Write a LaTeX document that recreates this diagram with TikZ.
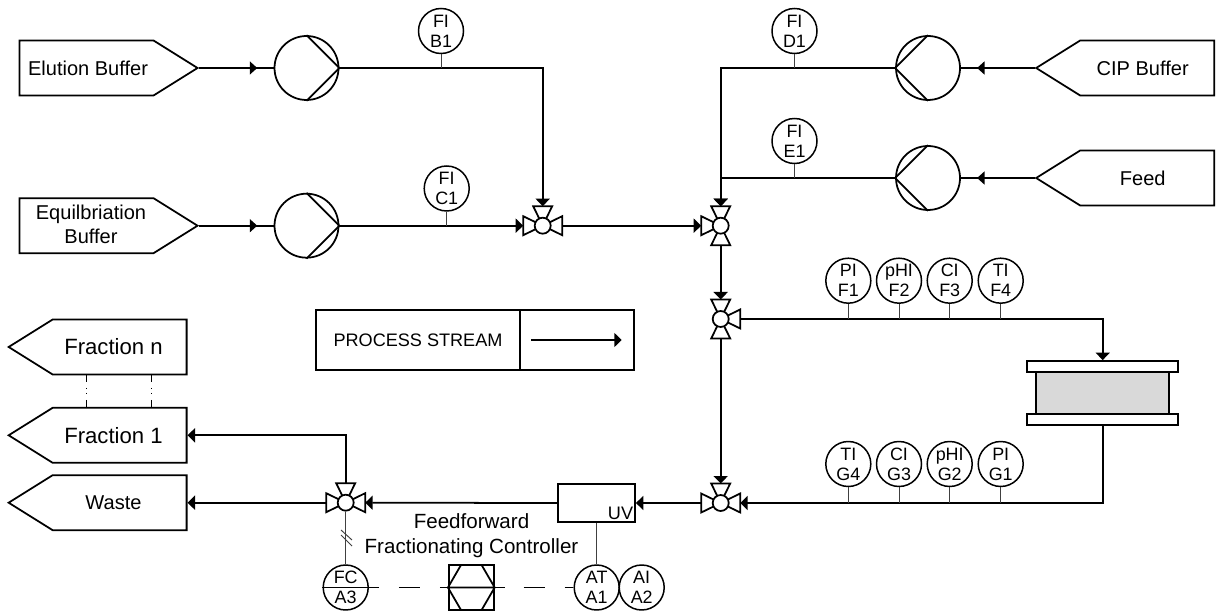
\documentclass[tikz,border=0pt]{standalone}
\usepackage{fontspec}
\setmainfont{Liberation Sans}
\usepackage{xcolor}
\usepackage{tikz}
\usetikzlibrary{arrows.meta,shapes.symbols,decorations.markings}
\tikzset{
stream/.style={line width=1pt},
flow/.style={line width=1pt,-{Triangle[length=1.5mm,width=2.8mm]}},
midtip/.style={postaction={decorate},decoration={markings,mark=at position #1 with {\arrow{Triangle[length=1.5mm,width=2.6mm]}}}},
signalline/.style={line width=0.55pt,black!75},
source/.style={signal,signal to=east,signal pointer angle=64,draw,line width=1pt,inner sep=0pt,minimum width=3.56cm,minimum height=1.1cm,anchor=west},
sink/.style={signal,signal to=west,signal pointer angle=64,draw,line width=1pt,inner sep=0pt,minimum width=3.56cm,minimum height=1.1cm,anchor=east},
pump/.style={circle,draw,line width=1pt,minimum size=1.28cm,inner sep=0pt},
instr/.style={circle,draw,line width=0.85pt,fill=white,minimum size=0.9cm,inner sep=0pt,align=center,font=\fontsize{10.2}{11.4}\selectfont},
boxtext/.style={align=center,inner sep=0pt,font=\fontsize{11.4}{13.6}\selectfont}
}
\newcommand{\valve}[3]{
\foreach \a in {#3}{
\draw[stream,fill=white](#2)--++(\a-26:21.7)--++(\a+90:19)--cycle;
}
\node[circle,draw,line width=1pt,fill=white,minimum size=0.32cm,inner sep=0pt](#1)at(#2){};
\path(#2)++(0,-19.5)coordinate(#1n)(#2)++(0,19.5)coordinate(#1s)
(#2)++(19.5,0)coordinate(#1e)(#2)++(-19.5,0)coordinate(#1w);
}
\begin{document}
\begin{tikzpicture}[x=0.02cm,y=-0.02cm]
\useasboundingbox(0,0)rectangle(1216,614);
% feeds
\node[source](elution)at(18.7,68){};
\node[boxtext](elutionText)at(88,68){Elution Buffer};
\node[source](equil)at(18.7,225.7){};
\node[boxtext](equilText)at(91,224){Equilbriation\\Buffer};
\node[sink](cip)at(1215,68){};
\node[boxtext](cipText)at(1142.7,68){CIP Buffer};
\node[sink](feed)at(1215,178){};
\node[boxtext](feedText)at(1142.7,178){Feed};
% outlets
\node[sink](fracn)at(187.5,347){};
\node[boxtext,font=\fontsize{12.6}{15}\selectfont](fracnText)at(113.5,347){Fraction n};
\node[sink](frac1)at(187.5,435.3){};
\node[boxtext,font=\fontsize{12.6}{15}\selectfont](frac1Text)at(113.5,435.3){Fraction 1};
\node[sink](waste)at(187.5,502.7){};
\node[boxtext](wasteText)at(113.5,502.7){Waste};
\coordinate(fracnL)at(86.7,374);
\coordinate(fracnR)at(151,374);
\coordinate(frac1L)at(86.7,408);
\coordinate(frac1R)at(151,408);
\draw[line width=0.55pt,dash pattern=on 0.16cm off 0.12cm on 0.02cm off 0.08cm on 0.02cm off 0.12cm on 0.16cm](fracnL)--(frac1L);
\draw[line width=0.55pt,dash pattern=on 0.16cm off 0.12cm on 0.02cm off 0.08cm on 0.02cm off 0.12cm on 0.16cm](fracnR)--(frac1R);
% pumps
\node[pump](pumpB)at(306.5,68){};
\node[pump](pumpC)at(306.5,225.7){};
\node[pump](pumpD)at(928,68){};
\node[pump](pumpE)at(928,178){};
\draw[stream](pumpB.north)--(pumpB.east)--(pumpB.south);
\draw[stream](pumpC.north)--(pumpC.east)--(pumpC.south);
\draw[stream](pumpD.north)--(pumpD.west)--(pumpD.south);
\draw[stream](pumpE.north)--(pumpE.west)--(pumpE.south);
% valves
\valve{vA}{542.7,225.7}{0,180,270}
\valve{vB}{720.7,225.7}{90,180,270}
\valve{vC}{720.7,319}{0,90,270}
\valve{vD}{720.7,503}{0,180,270}
\valve{vE}{345.7,502.7}{0,180,270}
% column
\node[draw,line width=1pt,fill=black!15,minimum width=2.66cm,minimum height=0.84cm,inner sep=0pt](column)at(1102.7,393){};
\node[draw,line width=1pt,minimum width=3.02cm,minimum height=0.22cm,inner sep=0pt](colTop)at(1102.7,366.5){};
\node[draw,line width=1pt,minimum width=3.02cm,minimum height=0.22cm,inner sep=0pt](colBot)at(1102.7,419.3){};
% detector and controller
\node[draw,line width=1pt,minimum width=1.54cm,minimum height=0.76cm,inner sep=0pt](uv)at(596.5,503){};
\node[boxtext,font=\fontsize{10.3}{12}\selectfont](uvText)at(620.5,513){UV};
\node[draw,line width=1pt,minimum size=0.9cm,inner sep=0pt](ctrl)at(471.3,587.5){};
\draw[stream](ctrl.west)--(461,565)--(481.6,565)--(ctrl.east)--(481.6,610)--(461,610)--cycle
(ctrl.west)--(ctrl.east);
\node[boxtext,font=\fontsize{11.7}{14.2}\selectfont](ctrlLabel)at(471.5,535.5){Feedforward\\Fractionating Controller};
% legend
\node[draw,line width=0.85pt,minimum width=4.08cm,minimum height=1.2cm,inner sep=0pt,font=\fontsize{10.3}{12}\selectfont](legendText)at(418,340){PROCESS STREAM};
\node[draw,line width=0.85pt,minimum width=2.28cm,minimum height=1.2cm,inner sep=0pt](legendFlow)at(577,340){};
\draw[flow,shorten <=0.24cm,shorten >=0.26cm](legendFlow.west)--(legendFlow.east);
% instruments
\node[instr](fiB)at(441,31){FI\\B1};
\node[instr](fiC)at(446.7,188.5){FI\\C1};
\node[instr](fiD)at(794.5,31){FI\\D1};
\node[instr](fiE)at(794.5,141){FI\\E1};
\node[instr](piF)at(848.3,280.7){PI\\F1};
\node[instr](phF)at(899,280.7){pHI\\F2};
\node[instr](ciF)at(949.7,280.7){CI\\F3};
\node[instr](tiF)at(1000.7,280.7){TI\\F4};
\node[instr](tiG)at(848.3,464){TI\\G4};
\node[instr](ciG)at(899,464){CI\\G3};
\node[instr](phG)at(949.7,464){pHI\\G2};
\node[instr](piG)at(1000.7,464){PI\\G1};
\node[instr](fc)at(345.7,587.5){FC\\A3};
\node[instr](at)at(596.7,587.5){AT\\A1};
\node[instr](ai)at(641.7,587.5){AI\\A2};
% process lines
\draw[stream,midtip=0.78](elution.east)--(pumpB.west);
\draw[stream,midtip=0.78](equil.east)--(pumpC.west);
\draw[stream,midtip=0.78](cip.west)--(pumpD.east);
\draw[stream,midtip=0.78](feed.west)--(pumpE.east);
\draw[flow](pumpB.east)-|(vAn);
\draw[flow](pumpC.east)--(vAw);
\draw[flow](pumpD.west)-|(vBn);
\draw[flow](pumpE.west)-|(vBn);
\draw[flow](vAe)--(vBw);
\draw[flow](vBs)--(vCn);
\draw[flow](vCs)--(vDn);
\draw[flow](vCe)-|(colTop.north);
\draw[flow](colBot.south)|-(vDe);
\draw[flow](vDw)--(uv.east);
\draw[flow](uv.west)--(vEe);
\draw[flow](vEw)--(waste.east);
\draw[flow](vEn)|-(frac1.east);
% instrument lines
\draw[signalline](fiB.south)--(fiB|-pumpB);
\draw[signalline](fiC.south)--(fiC|-pumpC);
\draw[signalline](fiD.south)--(fiD|-pumpD);
\draw[signalline](fiE.south)--(fiE|-pumpE);
\foreach \n in {piF,phF,ciF,tiF}{
\draw[signalline](\n.south)--(\n|-vC);
}
\foreach \n in {tiG,ciG,phG,piG}{
\draw[signalline](\n.south)--(\n|-vD);
}
\draw[signalline](uv.south-|at)--(at.north);
\draw[signalline](vE.south)--(fc.north);
\draw[signalline](341,530)--(352,540)(341,535)--(352,546);
\draw[stream](fc.west)--(fc.east);
\draw[line width=0.55pt,dash pattern=on 0.2cm off 0.4cm on 0.42cm off 0.4cm on 0.2cm](fc.east)--(ctrl.west);
\draw[line width=0.55pt,dash pattern=on 0.2cm off 0.38cm on 0.42cm off 0.4cm on 0.2cm](ctrl.east)--(at.west);
\end{tikzpicture}
\end{document}
